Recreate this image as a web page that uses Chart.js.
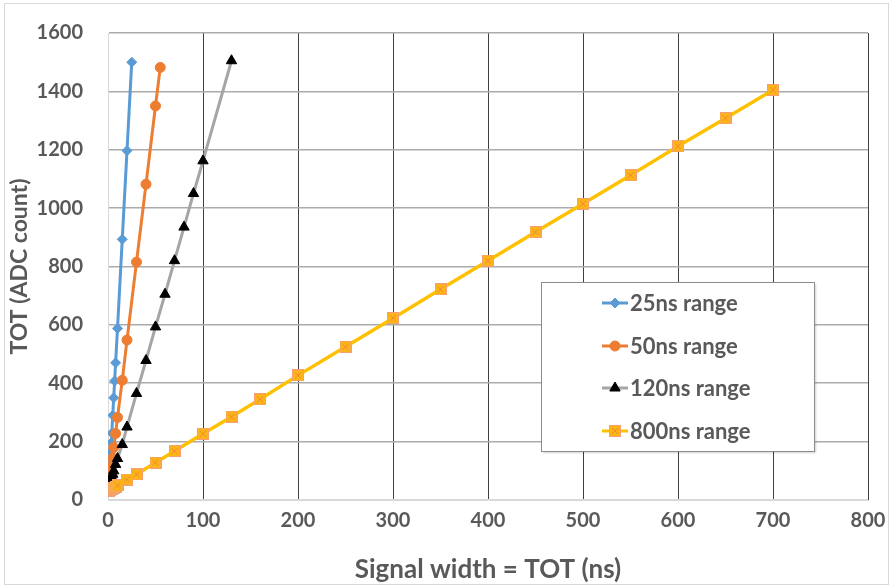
<!DOCTYPE html>
<html>
<head>
<meta charset="utf-8">
<title>TOT vs signal width</title>
<script src="https://cdn.jsdelivr.net/npm/chart.js@4.4.1/dist/chart.umd.min.js"></script>
<style>
    html, body { margin: 0; padding: 0; background: #ffffff; overflow: hidden; }
    #wrap { width: 889px; height: 587px; position: relative; }
</style>
</head>
<body>
<div id="wrap"><canvas id="totChart"></canvas></div>
<script>
// Series values
const ns25X = [1, 1.5, 2, 2.5, 3, 3.5, 4, 5, 6, 7, 8, 10, 15, 20, 25];
const ns25Y = [45, 72, 103, 133, 165, 196, 229, 290, 350, 408, 470, 588, 893, 1197, 1500];

const ns50X = [1, 2, 3, 4, 5, 6, 8, 10, 15, 20, 30, 40, 50, 55];
const ns50Y = [40, 66, 90, 115, 144, 180, 228, 283, 410, 548, 815, 1082, 1350, 1482];

const ns120X = [2, 4, 5, 6, 8, 10, 15, 20, 30, 40, 50, 60, 70, 80, 90, 100, 130];
const ns120Y = [55, 78, 88, 100, 122, 142, 190, 250, 365, 478, 593, 705, 820, 935, 1050, 1162, 1505];

const ns800X = [1, 2, 3, 4, 5, 6, 8, 10, 20, 30, 50, 70, 100, 130, 160, 200, 250, 300, 350, 400, 450, 500, 550, 600, 650, 700];
const ns800Y = [32, 34, 36, 38, 40, 42, 46, 50, 70, 88, 128, 168, 227, 285, 345, 427, 525, 623, 722, 820, 918, 1015, 1113, 1212, 1308, 1405];

const seriesLabels = ['25ns range', '50ns range', '120ns range', '800ns range'];

// Axis ranges / tick steps
const xMin = 0, xMax = 800, xStep = 100;
const yMin = 0, yMax = 1600, yStep = 200;

const xTitle = 'Signal width = TOT (ns)';
const yTitle = 'TOT (ADC count)';

function toPoints(xs, ys) {
    return xs.map((x, i) => ({ x: x, y: ys[i] }));
}

// Square marker with a cross, like the Excel one
function makeSquareMarker() {
    var c = document.createElement('canvas');
    c.width = 12; c.height = 12;
    var g = c.getContext('2d');
    g.fillStyle = '#FDB515';
    g.fillRect(0.5, 0.5, 11, 11);
    g.strokeStyle = '#F4A070';
    g.lineWidth = 1;
    g.strokeRect(0.5, 0.5, 11, 11);
    g.strokeStyle = '#EE8A3A';
    g.beginPath();
    g.moveTo(3, 3); g.lineTo(9, 9);
    g.moveTo(9, 3); g.lineTo(3, 9);
    g.stroke();
    return c;
}
const squareMarker = makeSquareMarker();

const fontFamily = 'Lato, "Open Sans", sans-serif';
const textColor = '#595959';

// Legend box drawn inside the plot area
const boxLegend = {
    id: 'boxLegend',
    afterDatasetsDraw(chart) {
        const ctx = chart.ctx;
        const bx = 541.5, by = 282.5, bw = 273, bh = 169;
        ctx.save();
        ctx.shadowColor = 'rgba(0,0,0,0.18)';
        ctx.shadowOffsetX = 1;
        ctx.shadowOffsetY = 1;
        ctx.shadowBlur = 2;
        ctx.fillStyle = '#ffffff';
        ctx.fillRect(bx, by, bw, bh);
        ctx.shadowColor = 'transparent';
        ctx.strokeStyle = '#8C8C8C';
        ctx.lineWidth = 1;
        ctx.strokeRect(bx, by, bw, bh);

        const rows = [303, 346, 388, 431];
        chart.data.datasets.forEach((ds, i) => {
            const y = rows[i];
            ctx.strokeStyle = ds.borderColor;
            ctx.lineWidth = 3;
            ctx.beginPath();
            ctx.moveTo(602, y);
            ctx.lineTo(628, y);
            ctx.stroke();
            // marker in the dataset colours
            ctx.fillStyle = ds.backgroundColor;
            ctx.strokeStyle = ds.pointBorderColor || ds.backgroundColor;
            ctx.lineWidth = 1;
            Chart.helpers.drawPoint(ctx, {
                pointStyle: ds.pointStyle,
                radius: ds.pointRadius,
                rotation: 0,
                borderWidth: 1
            }, 615, y);
            ctx.fillStyle = textColor;
            ctx.font = 'bold 22px ' + fontFamily;
            ctx.textAlign = 'left';
            ctx.textBaseline = 'middle';
            ctx.fillText(ds.label, 630, y + 1);
        });
        ctx.restore();
    }
};

const outerBorder = {
    id: 'outerBorder',
    afterDraw(chart) {
        const ctx = chart.ctx;
        ctx.save();
        ctx.strokeStyle = '#D9D9D9';
        ctx.lineWidth = 1;
        ctx.strokeRect(4.5, 3.5, 884, 581);
        ctx.restore();
    }
};

var ctx = document.getElementById('totChart').getContext('2d');
var chart = new Chart(ctx, {
    type: 'scatter',
    data: {
        datasets: [
            {
                label: seriesLabels[0],
                data: toPoints(ns25X, ns25Y),
                showLine: true,
                borderColor: '#5B9BD5',
                backgroundColor: '#5B9BD5',
                pointBorderColor: '#5B9BD5',
                borderWidth: 3,
                pointStyle: 'rectRot',
                pointRadius: 5,
                pointBorderWidth: 1,
                order: 4
            },
            {
                label: seriesLabels[1],
                data: toPoints(ns50X, ns50Y),
                showLine: true,
                borderColor: '#ED7D31',
                backgroundColor: '#ED7D31',
                pointBorderColor: '#ED7D31',
                borderWidth: 3,
                pointStyle: 'circle',
                pointRadius: 5,
                pointBorderWidth: 1,
                order: 3
            },
            {
                label: seriesLabels[2],
                data: toPoints(ns120X, ns120Y),
                showLine: true,
                borderColor: '#A5A5A5',
                backgroundColor: '#000000',
                pointBorderColor: '#000000',
                borderWidth: 3,
                pointStyle: 'triangle',
                pointRadius: 6,
                pointBorderWidth: 1,
                order: 2
            },
            {
                label: seriesLabels[3],
                data: toPoints(ns800X, ns800Y),
                showLine: true,
                borderColor: '#FFC000',
                backgroundColor: '#FDB515',
                borderWidth: 3.5,
                pointStyle: squareMarker,
                pointRadius: 6,
                order: 1
            }
        ]
    },
    options: {
        responsive: true,
        maintainAspectRatio: false,
        animation: false,
        layout: {
            padding: { left: 0, right: 21, top: 33, bottom: 0 }
        },
        elements: {
            line: { tension: 0 }
        },
        scales: {
            x: {
                type: 'linear',
                min: xMin,
                max: xMax,
                // fixed axis box so the plot area matches the picture
                afterFit: function (scale) {
                    scale.height = 87;
                    scale.paddingLeft = 0;
                    scale.paddingRight = 0;
                },
                ticks: {
                    stepSize: xStep,
                    padding: 9,
                    color: textColor,
                    callback: v => String(v),
                    font: { family: fontFamily, size: 20, weight: 'bold' }
                },
                grid: {
                    drawTicks: false,
                    lineWidth: 1,
                    color: c => c.tick && c.tick.value === 0 ? '#D9D9D9' : '#404040'
                },
                border: { color: '#D9D9D9', width: 1 },
                title: {
                    display: true,
                    text: xTitle,
                    color: textColor,
                    padding: { top: 0, bottom: 2 },
                    font: { family: fontFamily, size: 26, weight: 'bold' }
                }
            },
            y: {
                type: 'linear',
                min: yMin,
                max: yMax,
                afterFit: function (scale) {
                    scale.width = 108;
                    scale.paddingTop = 0;
                    scale.paddingBottom = 0;
                },
                ticks: {
                    stepSize: yStep,
                    padding: 25,
                    color: textColor,
                    callback: v => String(v),
                    font: { family: fontFamily, size: 20, weight: 'bold' }
                },
                grid: {
                    drawTicks: false,
                    lineWidth: 1.6,
                    color: c => c.tick && c.tick.value === 0 ? '#D9D9D9' : '#ABABAB'
                },
                border: { color: '#D9D9D9', width: 1 },
                title: {
                    display: true,
                    text: yTitle,
                    color: textColor,
                    padding: { top: 6, bottom: 0 },
                    font: { family: fontFamily, size: 23, weight: 'bold' }
                }
            }
        },
        plugins: {
            legend: { display: false },
            tooltip: { enabled: false }
        }
    },
    plugins: [boxLegend, outerBorder]
});
</script>
</body>
</html>
